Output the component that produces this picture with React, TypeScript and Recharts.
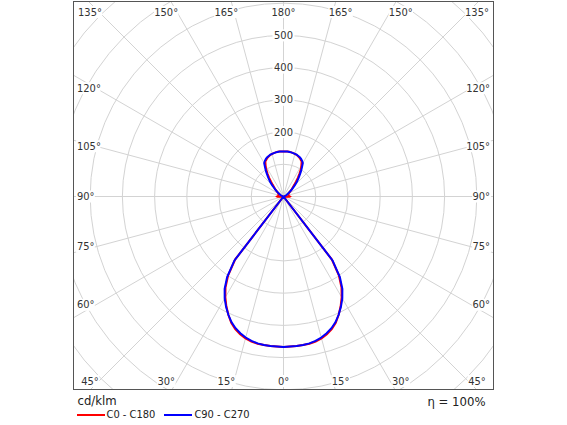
import { RadarChart, Radar, PolarGrid, PolarAngleAxis, PolarRadiusAxis, Legend } from "recharts"

// gamma angles of the measured intensities (0° = straight down, 180° = straight up)
const gammaAngles = Array.from({ length: 73 }, (_, i) => i * 2.5)

// cd/klm, one value per gamma angle
const c0c180 = [
  467, 466, 466, 465, 464, 461, 456, 448, 438, 424, 405, 384, 361, 335, 300, 246, 0,
  0, 0, 0, 0, 0, 0, 0, 0, 0, 0, 0, 0, 0, 0, 0, 0, 0,
  12, 18, 20, 19, 18, 17, 16, 16, 16, 16, 16, 17, 17, 18, 19, 20, 23, 27, 31, 36,
  41, 50, 60, 73, 86, 100, 111, 122, 126, 130, 133, 135, 137, 138, 139, 140, 140, 140, 140,
]
const c90c270 = [
  467, 466, 466, 465, 463, 459, 453, 445, 435, 422, 405, 386, 365, 340, 305, 250, 0,
  0, 0, 0, 0, 0, 0, 0, 0, 0, 0, 0, 0, 0, 0, 0, 0, 0, 0, 0, 0, 0, 0, 0, 0,
  2, 3, 4, 5, 7, 9, 11, 14, 17, 21, 27, 33, 40, 50, 61, 71, 81, 94, 106, 120,
  125, 129, 132, 134, 136, 137, 138, 139, 139.5, 140, 140, 140, 140,
]

const spokeTicks = [0, 15, 30, 45, 60, 75, 90, 105, 120, 135, 150, 165, 180, 195, 210, 225, 240, 255, 270, 285, 300, 315, 330, 345]
const ringValues = [100, 200, 300, 400, 500, 600, 700, 800]
const ringLabels = [200, 300, 400, 500]
const maxIntensity = 900

// right half is C0 / C90, left half is the mirrored C180 / C270 side
const rightHalf = gammaAngles.map((g, i) => ({ theta: g, c0: c0c180[i], c90: c90c270[i] }))
const leftHalf = gammaAngles
  .slice(1, -1)
  .map((g, i) => ({ theta: 360 - g, c0: c0c180[i + 1], c90: c90c270[i + 1] }))
  .reverse()
const chartData = [...rightHalf, ...leftHalf]

const FONT = "Tahoma, 'DejaVu Sans Condensed', 'Liberation Sans', Arial, sans-serif"
const W = 419
const H = 387
const CX = 209.5
const CY = 194.5
const OUTER = 290
const toPx = (v: number) => (v * OUTER) / maxIntensity

// angle labels sit where the spoke meets the frame
function AngleTick(props: any) {
  const { x, y, payload } = props
  const dx = x - CX
  const dy = y - CY
  const v = payload.value
  const label = `${v <= 180 ? v : 360 - v}°`
  const w = label.length * 5.6 + 2
  let tx: number, ty: number
  let anchor: "start" | "middle" | "end"
  if (Math.abs(dy) * CX >= Math.abs(dx) * CY - 0.01) {
    tx = CX + (dx * CY) / Math.abs(dy)
    if (Math.abs(dx) > 1) tx += Math.sign(dx) * 5
    tx = Math.min(Math.max(tx, 16), W - 16)
    ty = dy < 0 ? 10 : H - 8
    anchor = "middle"
  } else {
    ty = CY + (dy * (CX - 22)) / Math.abs(dx)
    tx = dx < 0 ? 3 : W - 3
    anchor = dx < 0 ? "start" : "end"
  }
  const rx = anchor === "middle" ? tx - w / 2 : anchor === "start" ? tx - 1 : tx - w + 1
  return (
    <g>
      <rect x={rx} y={ty - 6} width={w} height={12} fill="#fff" />
      <text x={tx} y={ty} textAnchor={anchor} dominantBaseline="central" fontSize={11} fill="#333" fontFamily={FONT}>
        {label}
      </text>
    </g>
  )
}

function RingTick(props: any) {
  const { x, y, payload } = props
  return (
    <g>
      <rect x={x - 11} y={y - 6} width={22} height={12} fill="#fff" />
      <text x={x} y={y} textAnchor="middle" dominantBaseline="central" fontSize={11} fill="#333" fontFamily={FONT}>
        {payload.value}
      </text>
    </g>
  )
}

const renderLegend = (props: any) => {
  const { payload } = props
  return (
    <div style={{ position: "relative", width: W, height: 30, fontFamily: FONT, color: "#222" }}>
      <div style={{ fontSize: 13, lineHeight: "15px", paddingLeft: 4 }}>cd/klm</div>
      <ul style={{ display: "flex", margin: 0, padding: 0, listStyle: "none", paddingLeft: 3 }}>
        {payload.map((entry: any, index: number) => (
          <li key={`item-${index}`} style={{ display: "flex", alignItems: "center", marginRight: 9 }}>
            <span style={{ display: "inline-block", width: 28, height: 2, background: entry.color, marginRight: 2 }} />
            <span style={{ fontSize: 11, lineHeight: "13px" }}>{entry.value}</span>
          </li>
        ))}
      </ul>
      <div style={{ position: "absolute", right: 7, top: 1, fontSize: 13, lineHeight: "15px" }}>η = 100%</div>
    </div>
  )
}

export default function App() {
  return (
    <div style={{ position: "absolute", left: 0, top: 0, width: 567, height: 425, background: "#fff" }}>
      <div style={{ position: "absolute", left: 72.5, top: 1, width: W, height: H, border: "1.5px solid #555" }}>
        <RadarChart
          width={W}
          height={H}
          data={chartData}
          cx={CX}
          cy={CY}
          outerRadius={OUTER}
          startAngle={-90}
          endAngle={270}
          margin={{ top: 0, right: 0, bottom: 0, left: 0 }}
        >
          <PolarGrid
            gridType="circle"
            stroke="#d3d3d3"
            innerRadius={toPx(ringValues[0])}
            polarRadius={ringValues.map(toPx)}
            polarAngles={spokeTicks.map((t) => t - 90)}
          />
          <PolarAngleAxis
            dataKey="theta"
            type="number"
            domain={[0, 360]}
            ticks={spokeTicks}
            axisLine={false}
            tickLine={false}
            tick={AngleTick}
          />
          <PolarRadiusAxis
            type="number"
            domain={[0, maxIntensity]}
            ticks={ringLabels}
            angle={90}
            axisLine={false}
            tickLine={false}
            tick={RingTick}
          />
          <Radar name="C0 - C180" dataKey="c0" stroke="#ff0000" strokeWidth={2} fill="none" dot={false} isAnimationActive={false} />
          <Radar name="C90 - C270" dataKey="c90" stroke="#0000ff" strokeWidth={2} fill="none" dot={false} isAnimationActive={false} />
          <Legend content={renderLegend} wrapperStyle={{ top: 391, left: 0 }} />
        </RadarChart>
      </div>
    </div>
  )
}
